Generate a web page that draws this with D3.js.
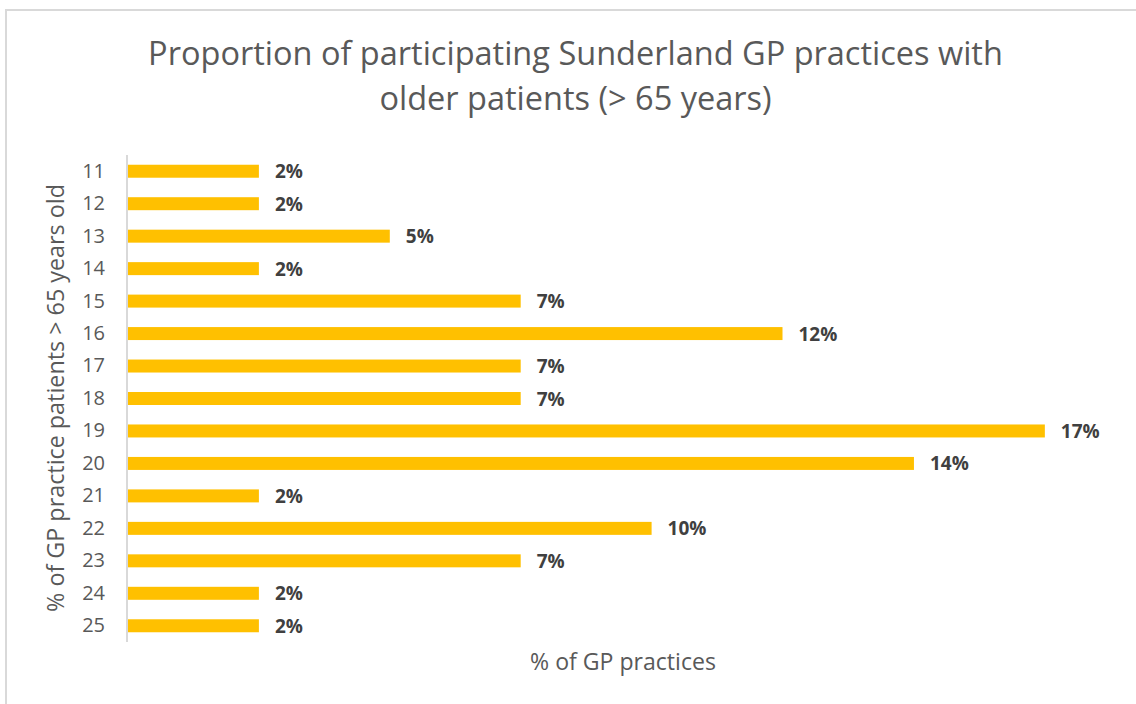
<!DOCTYPE html>
<html>
<head>
<meta charset="utf-8">
<script src="https://cdn.jsdelivr.net/npm/d3@7"></script>
<style>
  html, body { margin: 0; padding: 0; background: #fff; }
  svg { display: block; }
</style>
</head>
<body>
<svg id="chart" width="1136" height="704"></svg>
<script>
// ---- data ----
const categories = ["11","12","13","14","15","16","17","18","19","20","21","22","23","24","25"];
const percentValues = [2.38, 2.38, 4.76, 2.38, 7.14, 11.90, 7.14, 7.14, 16.67, 14.29, 2.38, 9.52, 7.14, 2.38, 2.38];
const titleLines = ["Proportion of participating Sunderland GP practices with", "older patients (> 65 years)"];
const yAxisTitle = "% of GP practice patients > 65 years old";
const xAxisTitle = "% of GP practices";

const font = "'Open Sans', 'Liberation Sans', sans-serif";
const svg = d3.select("#chart");

// chart border (only top and left visible)
svg.append("rect").attr("x", 6).attr("y", 10).attr("width", 1160).attr("height", 720)
  .attr("fill", "#fff").attr("stroke", "#d9d9d9").attr("stroke-width", 2);

const x = d3.scaleLinear().domain([0, 18]).range([128, 1118]);
const y = d3.scaleBand().domain(categories).range([155, 642]).paddingInner(0.6).paddingOuter(0.3);

function fit(sel, target) {
  const n = sel.node();
  const w = n.getComputedTextLength();
  const fs = parseFloat(sel.attr("font-size"));
  sel.attr("font-size", fs * target / w);
}

// title
const t1 = svg.append("text").attr("x", 575.5).attr("y", 65).attr("text-anchor", "middle")
  .attr("font-family", font).attr("font-size", 28).attr("fill", "#595959").text(titleLines[0]);
fit(t1, 855);
const t2 = svg.append("text").attr("x", 575.5).attr("y", 110).attr("text-anchor", "middle")
  .attr("font-family", font).attr("font-size", t1.attr("font-size")).attr("fill", "#595959").text(titleLines[1]);

// bars
svg.append("g").selectAll("rect").data(categories).join("rect")
  .attr("x", x(0))
  .attr("y", d => y(d))
  .attr("width", (d, i) => x(percentValues[i]) - x(0))
  .attr("height", y.bandwidth())
  .attr("fill", "#FFC000");

// value labels
const fmt = v => d3.format(".0f")(v) + "%";
svg.append("g").selectAll("text").data(categories).join("text")
  .attr("x", (d, i) => x(percentValues[i]) + 16)
  .attr("y", d => y(d) + y.bandwidth() / 2)
  .attr("dy", "0.37em")
  .attr("font-family", font).attr("font-size", 19).attr("font-weight", "bold")
  .attr("fill", "#404040")
  .text((d, i) => fmt(percentValues[i]));

// y axis
const yAxis = svg.append("g").attr("transform", "translate(127,0)")
  .call(d3.axisLeft(y).tickSize(0).tickPadding(22));
yAxis.select(".domain").attr("stroke", "#d9d9d9").attr("stroke-width", 2)
  .attr("d", "M0,155V642");
yAxis.selectAll("text").attr("font-family", font).attr("font-size", 20).attr("fill", "#595959");

// axis titles
const yt = svg.append("text").attr("transform", "translate(64,398) rotate(-90)")
  .attr("text-anchor", "middle").attr("font-family", font).attr("font-size", 19)
  .attr("fill", "#595959").text(yAxisTitle);
fit(yt, 428);
const xt = svg.append("text").attr("x", 623).attr("y", 670).attr("text-anchor", "middle")
  .attr("font-family", font).attr("font-size", 19).attr("fill", "#595959").text(xAxisTitle);
fit(xt, 186);
</script>
</body>
</html>
